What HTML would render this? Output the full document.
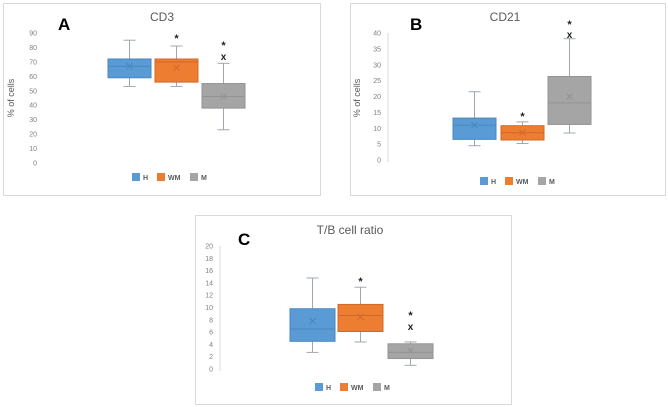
<!DOCTYPE html>
<html><head><meta charset="utf-8"><style>
body{margin:0;background:#fff;width:668px;height:407px;overflow:hidden;font-family:"Liberation Sans",sans-serif}
svg{position:absolute;left:0;top:0}
</style></head><body>
<svg id="s" width="668" height="407"></svg>
<script>
const groups = ["H","WM","M"];
const colors = ["#5b9bd5","#ed7d31","#a5a5a5"];
const strokes = ["#4a86bd","#d0682a","#939393"];
// [min,q1,median,q3,max,mean]
const cd3Values = [[53,59,67,72,85,67],[53,56,70,72,81,66],[23,38,46,55,69,46]];
const cd21Values = [[4.5,6.5,11,13.2,21.5,11],[5.2,6.3,8.6,10.8,12,8.6],[8.5,11.2,18,26.3,38.2,20]];
const tbValues = [[2.7,4.5,6.5,9.8,14.8,7.8],[4.4,6.1,8.7,10.5,13.3,8.5],[0.6,1.7,2.7,4.1,4.4,3]];
const cd3Ticks = [0,10,20,30,40,50,60,70,80,90];
const cd21Ticks = [0,5,10,15,20,25,30,35,40];
const tbTicks = [0,2,4,6,8,10,12,14,16,18,20];

const NS="http://www.w3.org/2000/svg", svg=document.getElementById('s');
function el(t,a,p){const e=document.createElementNS(NS,t);for(const k in a)e.setAttribute(k,a[k]);(p||svg).appendChild(e);return e;}
function txt(x,y,s,a,p){const e=el('text',Object.assign({x:x,y:y},a),p);e.textContent=s;return e;}

const panels=[
 {id:'cd3',letter:'A',title:'CD3',box:[3,3,317,192],lx:58,ly:30,tx:162,ty:21,ymin:0,ymax:90,y0:163,y1:33,tickX:37,axisX:null,
  vals:cd3Values,ticks:cd3Ticks,bx:[108,155,202],bw:43,legY:177,legX:132,yt:[14,98],
  marks:[[1,36,'*'],[2,43,'*'],[2,56,'x']]},
 {id:'cd21',letter:'B',title:'CD21',box:[350,3,315,192],lx:410,ly:30,tx:505,ty:21,ymin:0,ymax:40,y0:160,y1:33,tickX:381,axisX:388,
  vals:cd21Values,ticks:cd21Ticks,bx:[453,501,548],bw:43,legY:181,legX:480,yt:[360,98],
  marks:[[1,114,'*'],[2,22,'*'],[2,34,'x']]},
 {id:'tb',letter:'C',title:'T/B cell ratio',box:[195,215,316,189],lx:238,ly:245,tx:350,ty:234,ymin:0,ymax:20,y0:369,y1:246,tickX:213,axisX:220,
  vals:tbValues,ticks:tbTicks,bx:[290,338,388],bw:45,legY:387,legX:315,yt:null,
  marks:[[1,279,'*'],[2,313,'*'],[2,326,'x']]}
];

panels.forEach(P=>{
 const g=el('g',{});
 
 
 const r=el('rect',{x:P.box[0]+.5,y:P.box[1]+.5,width:P.box[2],height:P.box[3],fill:'#fff',stroke:'#d9d9d9'},g);
 
 
 const yS=v=>P.y0+(v-P.ymin)/(P.ymax-P.ymin)*(P.y1-P.y0);
 const L=txt(P.lx,P.ly,P.letter,{'font-size':17,'font-weight':'bold',fill:'#000'},g);
 
 
 const T=txt(P.tx,P.ty,P.title,{'font-size':12,fill:'#595959','text-anchor':'middle'},g);
 
 
 P.ticks.forEach(t=>{
  const e=txt(P.tickX,yS(t)+2.5,String(t),{'font-size':7,fill:'#7f7f7f','text-anchor':'end'},g);
  
  
 });
 if(P.axisX!==null){
  const a=el('line',{x1:P.axisX,x2:P.axisX,y1:yS(P.ymin)+2,y2:yS(P.ymax),stroke:'#d9d9d9'},g);
  
  
 }
 if(P.yt){
  const e=txt(P.yt[0],P.yt[1],'% of cells',{'font-size':9,fill:'#595959','text-anchor':'middle',transform:`rotate(-90 ${P.yt[0]} ${P.yt[1]})`},g);
  
  
 }
 P.vals.forEach((v,i)=>{
  const x=P.bx[i],w=P.bw,cx=x+w/2,c=colors[i],s=strokes[i];
  const bg=el('g',{},g);
  
  
  const ws='#9fa8b0';
  el('line',{x1:cx,x2:cx,y1:yS(v[0]),y2:yS(v[1]),stroke:ws},bg);
  el('line',{x1:cx,x2:cx,y1:yS(v[3]),y2:yS(v[4]),stroke:ws},bg);
  el('line',{x1:cx-6,x2:cx+6,y1:yS(v[0]),y2:yS(v[0]),stroke:ws},bg);
  el('line',{x1:cx-6,x2:cx+6,y1:yS(v[4]),y2:yS(v[4]),stroke:ws},bg);
  el('rect',{x:x,y:yS(v[3]),width:w,height:yS(v[1])-yS(v[3]),fill:c,stroke:s},bg);
  el('line',{x1:x,x2:x+w,y1:yS(v[2]),y2:yS(v[2]),stroke:s},bg);
  const m=yS(v[5]);
  el('path',{d:`M${cx-3},${m-3}L${cx+3},${m+3}M${cx-3},${m+3}L${cx+3},${m-3}`,stroke:s,'stroke-width':1},bg);
 });
 P.marks.forEach(mk=>{
  const cx=P.bx[mk[0]]+P.bw/2;
  const e=txt(cx,mk[1]+(mk[2]=='*'?6:4),mk[2],{'font-size':mk[2]=='*'?11:10,'font-weight':'bold',fill:'#222','text-anchor':'middle'},g);
  
  
 });
 let lx=P.legX;
 groups.forEach((gname,i)=>{
  const lg=el('g',{},g);
  
  
  el('rect',{x:lx,y:P.legY-4,width:8,height:8,fill:colors[i]},lg);
  txt(lx+11,P.legY+3,gname,{'font-size':7,'font-weight':'bold',fill:'#595959'},lg);
  lx+= gname.length>1?33:25;
 });
});
</script>
</body></html>
